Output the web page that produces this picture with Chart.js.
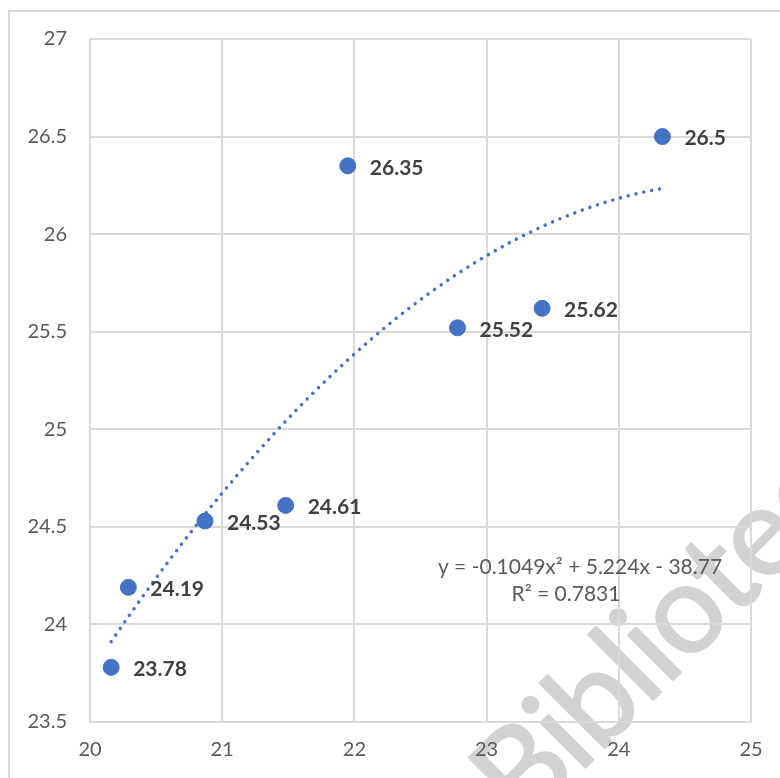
<!DOCTYPE html>
<html>
<head>
<meta charset="utf-8">
<script src="https://cdn.jsdelivr.net/npm/chart.js@4/dist/chart.umd.min.js"></script>
<style>
  html, body { margin: 0; padding: 0; background: #ffffff; }
  #wrap { width: 780px; height: 778px; position: relative; }
</style>
</head>
<body>
<div id="wrap"><canvas id="scatterChart" width="780" height="778"></canvas></div>
<script>
// measured points
const xValues = [20.16, 20.29, 20.87, 21.48, 21.95, 22.78, 23.42, 24.33];
const yValues = [23.78, 24.19, 24.53, 24.61, 26.35, 25.52, 25.62, 26.5];
const pointLabels = ['23.78', '24.19', '24.53', '24.61', '26.35', '25.52', '25.62', '26.5'];

// polynomial trendline as printed on the chart: a*x^2 + b*x + c
const trendCoef = [-0.1049, 5.224, -38.77];
const trendText = ['y = -0.1049x² + 5.224x - 38.77', 'R² = 0.7831'];

const xTicks = [20, 21, 22, 23, 24, 25];
const yTicks = [23.5, 24, 24.5, 25, 25.5, 26, 26.5, 27];

const watermark = 'Biblioteca';

const pointColour = '#4472C4';
const gridColour = '#d9d9d9';
const tickColour = '#595959';
const FONT = 'Lato, "Open Sans", sans-serif';

// trendline sampled along the x range of the data
const trendPoints = [];
const xMin = Math.min(...xValues), xMax = Math.max(...xValues);
for (let i = 0; i <= 60; i++) {
    const x = xMin + (xMax - xMin) * i / 60;
    trendPoints.push({ x, y: trendCoef[0] * x * x + trendCoef[1] * x + trendCoef[2] });
}

const scatterPoints = xValues.map((x, i) => ({ x, y: yValues[i] }));

// outer frame + watermark underneath everything else
const framePlugin = {
    id: 'frame',
    beforeDraw(chart) {
        const ctx = chart.ctx;
        ctx.save();
        ctx.strokeStyle = gridColour;
        ctx.lineWidth = 2;
        ctx.strokeRect(9, 11, 900, 900);

        ctx.translate(524, 829);
        ctx.rotate(-45 * Math.PI / 180);
        ctx.font = '125px ' + FONT;
        ctx.letterSpacing = '-2px';
        ctx.fillStyle = '#d2d2d2';
        ctx.strokeStyle = '#d2d2d2';
        ctx.lineWidth = 2;
        ctx.lineJoin = 'round';
        ctx.textAlign = 'left';
        ctx.textBaseline = 'alphabetic';
        ctx.strokeText(watermark, 0, 0);
        ctx.fillText(watermark, 0, 0);
        ctx.restore();
    }
};

// value labels and equation text
const labelPlugin = {
    id: 'labels',
    afterDatasetsDraw(chart) {
        const ctx = chart.ctx;
        const meta = chart.getDatasetMeta(1);
        ctx.save();
        ctx.font = 'bold 21px ' + FONT;
        ctx.fillStyle = '#404040';
        ctx.textAlign = 'left';
        ctx.textBaseline = 'middle';
        meta.data.forEach((el, i) => {
            ctx.fillText(pointLabels[i], el.x + 22, el.y + 2);
        });

        ctx.font = '21px ' + FONT;
        ctx.fillStyle = tickColour;
        ctx.textAlign = 'center';
        ctx.fillText(trendText[0], 580, 567);
        ctx.fillText(trendText[1], 566, 594);
        ctx.restore();
    }
};

const ctx = document.getElementById('scatterChart').getContext('2d');
new Chart(ctx, {
    type: 'scatter',
    data: {
        datasets: [
            {
                type: 'line',
                data: trendPoints,
                borderColor: pointColour,
                borderWidth: 3.5,
                borderDash: [0.01, 8],
                borderCapStyle: 'round',
                pointRadius: 0,
                fill: false,
                tension: 0
            },
            {
                data: scatterPoints,
                backgroundColor: pointColour,
                borderColor: pointColour,
                pointRadius: 8,
                pointHoverRadius: 8
            }
        ]
    },
    options: {
        responsive: false,
        animation: false,
        layout: { padding: { left: 0, right: 29, top: 39, bottom: 0 } },
        plugins: {
            legend: { display: false },
            tooltip: { enabled: false }
        },
        scales: {
            x: {
                type: 'linear',
                min: 20,
                max: 25,
                afterBuildTicks: axis => { axis.ticks = xTicks.map(v => ({ value: v })); },
                afterFit: axis => { axis.height = 56; },
                ticks: {
                    color: tickColour,
                    font: { family: FONT, size: 20 },
                    padding: 16,
                    callback: v => String(v)
                },
                grid: { color: gridColour, lineWidth: 2, drawTicks: false },
                border: { color: gridColour, width: 2 }
            },
            y: {
                type: 'linear',
                min: 23.5,
                max: 27,
                afterBuildTicks: axis => { axis.ticks = yTicks.map(v => ({ value: v })); },
                afterFit: axis => { axis.width = 90; },
                ticks: {
                    color: tickColour,
                    font: { family: FONT, size: 20 },
                    padding: 23,
                    callback: v => String(v)
                },
                grid: { color: gridColour, lineWidth: 2, drawTicks: false },
                border: { color: gridColour, width: 2 }
            }
        }
    },
    plugins: [framePlugin, labelPlugin]
});
</script>
</body>
</html>
